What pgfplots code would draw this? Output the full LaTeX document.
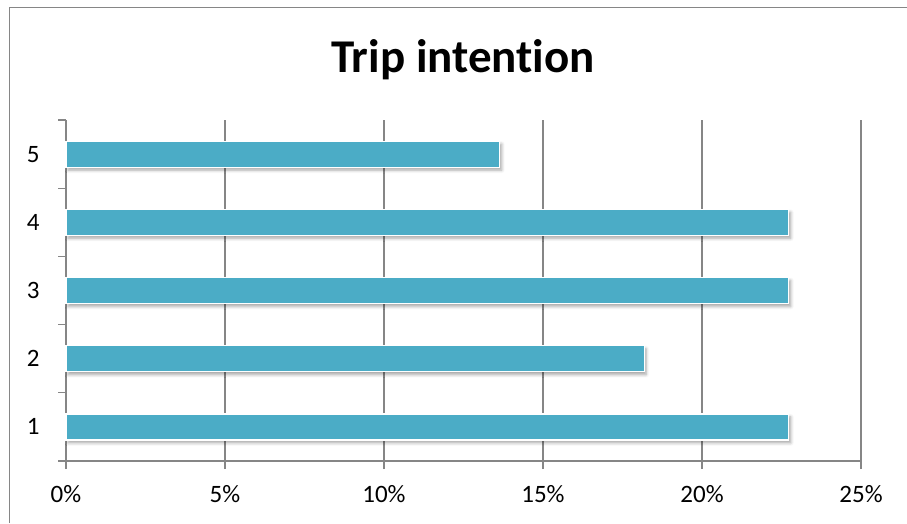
\documentclass[border=0pt]{standalone}
\usepackage{fontspec}
\setmainfont{Carlito}[Ligatures=NoCommon]
\usepackage{pgfplots}
\pgfplotsset{compat=1.18}
\usetikzlibrary{shadows.blur}
\definecolor{barblue}{HTML}{4BACC6}
\definecolor{gridgray}{HTML}{868686}
\begin{document}
\begin{tikzpicture}
\useasboundingbox (0pt,0pt) rectangle (907pt,523pt);
\draw[gridgray, line width=1.5pt] (9.5pt,0pt) -- (9.5pt,515.5pt) -- (907pt,515.5pt);
\node[font=\fontsize{47}{56}\selectfont\bfseries] at (463pt,463pt) {Trip intention};
\begin{axis}[
  at={(66pt,62pt)}, anchor=south west,
  scale only axis, width=795pt, height=341pt,
  xmin=0, xmax=25, ymin=0.5, ymax=5.5,
  axis x line*=bottom, axis y line*=left,
  axis line style={gridgray, line width=1.3pt, -},
  xtick={0,5,...,25},
  xticklabel={\pgfmathprintnumber{\tick}\%},
  xmajorgrids, major grid style={gridgray, line width=1.3pt},
  ytick={1,2,3,4,5},
  minor ytick={0.5,1.5,...,5.5},
  tick align=outside,
  major tick length=8pt, minor tick length=8pt,
  ymajorticks=true,
  y tick style={draw=none},
  minor y tick style={draw=gridgray, line width=1.3pt},
  x tick style={gridgray, line width=1.3pt},
  tick label style={font=\fontsize{25}{30}\selectfont, text=black},
  /pgf/number format/assume math mode=true,
  yticklabel style={xshift=-15pt},
  xticklabel style={yshift=-13pt},
  clip=false,
]
\addplot[xbar, bar width=26pt, fill=barblue, draw=white, line width=1.2pt,
  blur shadow={shadow xshift=2pt, shadow yshift=-3pt, shadow blur radius=3pt, shadow blur steps=6, shadow opacity=35}]
  coordinates {(22.73,1) (18.18,2) (22.73,3) (22.73,4) (13.64,5)};
\end{axis}
\end{tikzpicture}
\end{document}
